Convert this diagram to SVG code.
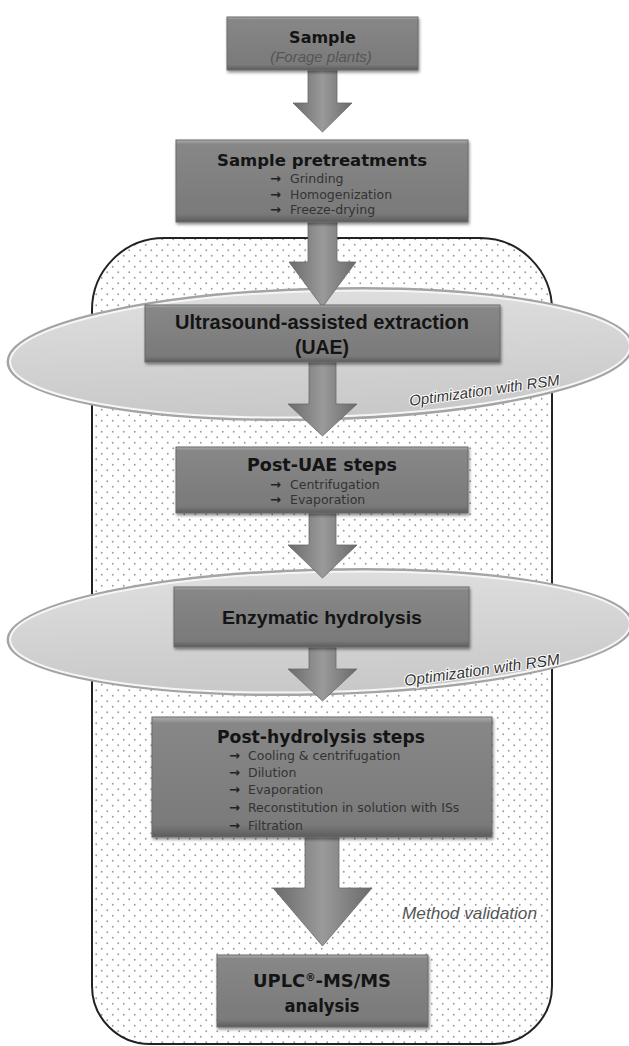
<svg xmlns="http://www.w3.org/2000/svg" width="629" height="1046" viewBox="0 0 629 1046">
<defs>
<pattern id="dots" width="11" height="11" patternUnits="userSpaceOnUse"><circle cx="2.75" cy="2.75" r="0.95" fill="#9c9c9c"/><circle cx="8.25" cy="8.25" r="0.95" fill="#9c9c9c"/></pattern>
<linearGradient id="boxg" x1="0" y1="0" x2="0" y2="1"><stop offset="0" stop-color="#b0b0b0"/><stop offset="0.05" stop-color="#878787"/><stop offset="0.9" stop-color="#7a7a7a"/><stop offset="1" stop-color="#5c5c5c"/></linearGradient>
<linearGradient id="arrg" x1="0" y1="0" x2="1" y2="0"><stop offset="0" stop-color="#6a6a6a"/><stop offset="0.5" stop-color="#9a9a9a"/><stop offset="1" stop-color="#6a6a6a"/></linearGradient>
<linearGradient id="ellg" x1="0" y1="0" x2="0" y2="1"><stop offset="0" stop-color="#dedede"/><stop offset="1" stop-color="#c8c8c8"/></linearGradient>
<filter id="sh" x="-10%" y="-10%" width="120%" height="130%"><feDropShadow dx="1" dy="2" stdDeviation="1.5" flood-color="#000" flood-opacity="0.45"/></filter>
</defs>
<style>
.box{fill:url(#boxg);stroke:#6a6a6a;stroke-width:1;filter:url(#sh)}
.arr{fill:url(#arrg);stroke:#6a6a6a;stroke-width:0.8}
.ell{fill:url(#ellg);stroke:#f6f6f6;stroke-width:2}
.ellr{fill:none;stroke:#a4a4a4;stroke-width:3}
.t1{font-family:"DejaVu Sans",sans-serif;font-weight:bold;fill:#141414;text-anchor:middle}
.t2{font-family:"Liberation Sans",Arial,sans-serif;font-weight:bold;fill:#141414;text-anchor:middle}
.bul{font-family:"DejaVu Sans",sans-serif;font-size:12.5px;fill:#333}
.ar{font-weight:bold;font-size:13px;fill:#222}
.lab{font-family:"Liberation Sans",Arial,sans-serif;font-style:italic;fill:#333;stroke:#fff;stroke-width:2;stroke-linejoin:round;paint-order:stroke}
</style>
<rect width="629" height="1046" fill="#fff"/>
<g id="region">
<path d="M 164 238 H 480 A 72 72 0 0 1 552 310 V 986 A 58 58 0 0 1 494 1044 H 150 A 58 58 0 0 1 92 986 V 310 A 72 72 0 0 1 164 238 Z" fill="url(#dots)" stroke="#222" stroke-width="2"/>
</g>
<g id="ellipse-uae" transform="rotate(-1.5 320 354)">
<ellipse class="ellr" cx="320" cy="354" rx="312" ry="65"/>
<ellipse class="ell" cx="320" cy="354" rx="310" ry="63"/>
</g>
<g id="ellipse-enz" transform="rotate(-1.5 320 632)">
<ellipse class="ellr" cx="320" cy="632" rx="312" ry="62"/>
<ellipse class="ell" cx="320" cy="632" rx="310" ry="60"/>
</g>
<g id="connectors">
<polygon class="arr" points="308,68 337,68 337,103 352,103 322.5,132 293,103 308,103"/>
<polygon class="arr" points="308,220 337,220 337,262 356,262 322.5,307 289,262 308,262"/>
<polygon class="arr" points="309,360 336,360 336,404 357,404 322.5,436 288,404 309,404"/>
<polygon class="arr" points="309,511 336,511 336,545 357,545 322.5,578 288,545 309,545"/>
<polygon class="arr" points="309,645 336,645 336,669 357,669 322.5,701 288,669 309,669"/>
<polygon class="arr" points="305,835 339,835 339,888 372,888 322.5,946 273,888 305,888"/>
</g>
<g id="labels">
<text class="lab" x="410" y="406" font-size="15" transform="rotate(-8 410 406)">Optimization with RSM</text>
<text class="lab" x="405" y="686" font-size="15.5" transform="rotate(-8 405 686)">Optimization with RSM</text>
<text class="lab" x="402" y="919" font-size="16.5" textLength="135" lengthAdjust="spacingAndGlyphs" style="fill:#555">Method validation</text>
</g>
<g id="node-sample">
<rect class="box" x="227" y="17" width="191" height="53"/>
<text class="t1" x="322.5" y="43" font-size="16">Sample</text>
<text x="321" y="62" font-family="Liberation Sans, Arial, sans-serif" font-style="italic" font-size="15" fill="#555" text-anchor="middle">(Forage plants)</text>
</g>
<g id="node-pretreat">
<rect class="box" x="176" y="140" width="292" height="82"/>
<text class="t1" x="322" y="166" font-size="16.5" textLength="210" lengthAdjust="spacingAndGlyphs">Sample pretreatments</text>
<text class="bul" x="270" y="183"><tspan class="ar">→</tspan> <tspan x="290">Grinding</tspan></text>
<text class="bul" x="270" y="199"><tspan class="ar">→</tspan> <tspan x="290">Homogenization</tspan></text>
<text class="bul" x="270" y="214"><tspan class="ar">→</tspan> <tspan x="290">Freeze-drying</tspan></text>
</g>
<g id="node-uae">
<rect class="box" x="145" y="305" width="355" height="57"/>
<text class="t2" x="322" y="329" font-size="19.5" textLength="294" lengthAdjust="spacingAndGlyphs">Ultrasound-assisted extraction</text>
<text class="t2" x="322" y="354" font-size="19.5">(UAE)</text>
</g>
<g id="node-postuae">
<rect class="box" x="176" y="447" width="292" height="66"/>
<text class="t1" x="322" y="471" font-size="17" textLength="150" lengthAdjust="spacingAndGlyphs">Post-UAE steps</text>
<text class="bul" x="270" y="489"><tspan class="ar">→</tspan> <tspan x="290">Centrifugation</tspan></text>
<text class="bul" x="270" y="504"><tspan class="ar">→</tspan> <tspan x="290">Evaporation</tspan></text>
</g>
<g id="node-enzymatic">
<rect class="box" x="174" y="587" width="295" height="60"/>
<text class="t2" x="322" y="624" font-size="19" textLength="200" lengthAdjust="spacingAndGlyphs">Enzymatic  hydrolysis</text>
</g>
<g id="node-posthyd">
<rect class="box" x="152" y="717" width="340" height="120"/>
<text class="t1" x="321" y="743" font-size="17" textLength="208" lengthAdjust="spacingAndGlyphs">Post-hydrolysis  steps</text>
<text class="bul" x="229" y="760"><tspan class="ar">→</tspan> <tspan x="248">Cooling &amp; centrifugation</tspan></text>
<text class="bul" x="229" y="777"><tspan class="ar">→</tspan> <tspan x="248">Dilution</tspan></text>
<text class="bul" x="229" y="794"><tspan class="ar">→</tspan> <tspan x="248">Evaporation</tspan></text>
<text class="bul" x="229" y="812"><tspan class="ar">→</tspan> <tspan x="248">Reconstitution in  solution with ISs</tspan></text>
<text class="bul" x="229" y="830"><tspan class="ar">→</tspan> <tspan x="248">Filtration</tspan></text>
</g>
<g id="node-uplc">
<rect class="box" x="217" y="955" width="211" height="72"/>
<text class="t1" x="322" y="987" font-size="17.5" textLength="138" lengthAdjust="spacingAndGlyphs">UPLC<tspan font-size="10" dy="-6">®</tspan><tspan dy="6">-MS/MS</tspan></text>
<text class="t1" x="322" y="1012" font-size="17" textLength="75" lengthAdjust="spacingAndGlyphs">analysis</text>
</g>
</svg>
